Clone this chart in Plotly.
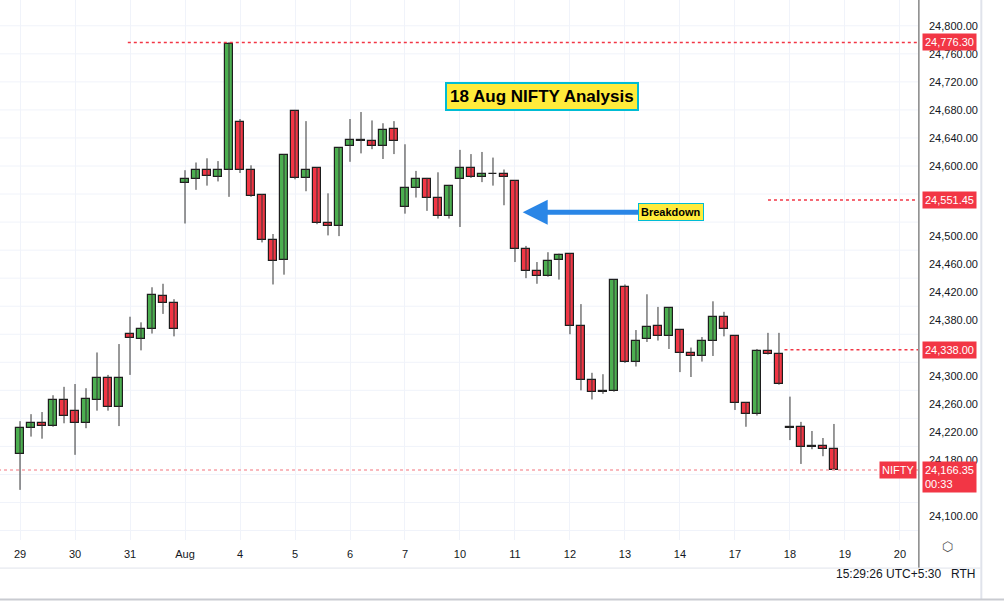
import plotly.graph_objects as go

# 75-minute candles, 5 per session
day_labels = ['29', '30', '31', 'Aug', '4', '5', '6', '7', '10', '11', '12', '13', '14', '17', '18', '19', '20']

opens = [24189, 24226, 24233, 24229, 24266, 24251, 24233, 24266, 24297, 24256,
         24361, 24353, 24367, 24414, 24405, 24576, 24581, 24594, 24585, 24595,
         24663, 24595, 24559, 24495, 24466, 24678, 24583, 24597, 24518, 24514,
         24628, 24637, 24635, 24629, 24653, 24542, 24568, 24582, 24555, 24529,
         24581, 24597, 24585, 24589, 24589, 24579, 24481, 24450, 24443, 24466,
         24474, 24372, 24295, 24279, 24279, 24427, 24321, 24353, 24372, 24357,
         24366, 24333, 24329, 24351, 24385, 24357, 24262, 24246, 24336, 24332,
         24227, 24228, 24200, 24201, 24197]
highs = [24236, 24246, 24249, 24273, 24285, 24289, 24283, 24334, 24302, 24346,
         24385, 24377, 24427, 24432, 24410, 24594, 24605, 24611, 24607, 24776.3,
         24667, 24601, 24560, 24503, 24617, 24680, 24664, 24598, 24561, 24627,
         24667, 24677, 24665, 24661, 24664, 24631, 24593, 24583, 24591, 24573,
         24623, 24617, 24620, 24612, 24595, 24580, 24486, 24463, 24477, 24475,
         24475, 24403, 24305, 24303, 24438, 24431, 24366, 24417, 24399, 24398,
         24367, 24341, 24356, 24407, 24392, 24358, 24263, 24339, 24362, 24362,
         24271, 24235, 24222, 24212, 24232]
lows = [24138, 24214, 24211, 24228, 24233, 24188, 24226, 24251, 24251, 24229,
        24302, 24337, 24361, 24389, 24357, 24518, 24566, 24572, 24578, 24556,
        24590, 24556, 24491, 24431, 24445, 24581, 24564, 24517, 24501, 24500,
        24606, 24618, 24624, 24610, 24617, 24532, 24555, 24536, 24525, 24525,
        24513, 24583, 24577, 24572, 24544, 24463, 24440, 24432, 24442, 24438,
        24360, 24280, 24267, 24275, 24278, 24319, 24314, 24349, 24351, 24339,
        24306, 24299, 24321, 24329, 24357, 24252, 24228, 24244, 24331, 24288,
        24209, 24175, 24196, 24186, 24166]
closes = [24226, 24233, 24229, 24266, 24243, 24233, 24267, 24297, 24256, 24297,
          24354, 24367, 24416, 24404, 24368, 24582, 24594, 24586, 24595, 24774,
          24594, 24557, 24494, 24464, 24616, 24583, 24595, 24518, 24515, 24626,
          24637, 24635, 24629, 24651, 24636, 24568, 24581, 24555, 24528, 24572,
          24597, 24585, 24589, 24588, 24585, 24481, 24450, 24443, 24464, 24473,
          24372, 24295, 24277, 24278, 24437, 24320, 24351, 24370, 24358, 24397,
          24333, 24329, 24351, 24385, 24368, 24262, 24246, 24336, 24332, 24289,
          24226, 24199, 24199, 24196, 24166.35]

y_ticks = [24800, 24760, 24720, 24680, 24640, 24600, 24500, 24460, 24420,
           24380, 24300, 24260, 24220, 24180, 24100]
grid_levels = [24800, 24760, 24720, 24680, 24640, 24600, 24560, 24520, 24480, 24440,
               24400, 24360, 24320, 24280, 24240, 24200, 24160, 24120, 24080]

level_high = 24776.30
level_breakdown = 24551.45
level_resist = 24338.00
last_price = 24166.35

RED = '#f23645'
GREEN = '#4caf50'
TXT = '#131722'

idx = list(range(len(opens)))
fig = go.Figure()

# wicks
wx, wy = [], []
for i in idx:
    wx += [i, i, None]
    wy += [lows[i], highs[i], None]
fig.add_trace(go.Scatter(x=wx, y=wy, mode='lines', line=dict(color='#333333', width=1),
                         showlegend=False, hoverinfo='skip'))

# bodies
base = [min(o, c) for o, c in zip(opens, closes)]
size = [max(abs(c - o), 1.2) for o, c in zip(opens, closes)]
cols = [GREEN if c >= o else RED for o, c in zip(opens, closes)]
fig.add_trace(go.Bar(x=idx, y=size, base=base, width=0.68, marker=dict(
    color=cols, line=dict(color='#1e1e1e', width=1.2)), showlegend=False, hoverinfo='skip'))

shapes = []
for g in grid_levels:
    shapes.append(dict(type='line', xref='paper', x0=0, x1=1, y0=g, y1=g,
                       line=dict(color='#f0f3fa', width=1), layer='below'))

# dotted price levels
for x0, lvl, col in [(9.8, level_high, RED), (68.0, level_breakdown, RED),
                     (69.5, level_resist, RED), (-2, last_price, '#f7a1a8')]:
    shapes.append(dict(type='line', x0=x0, x1=81.64, y0=lvl, y1=lvl,
                       line=dict(color=col, width=1.5, dash='dot')))

# frame lines (price scale, time scale, toolbar)
shapes += [
    dict(type='line', xref='paper', yref='paper', x0=1.001, x1=1.001, y0=-0.052, y1=1,
         line=dict(color='#4a4a4a', width=1)),
    dict(type='line', xref='paper', yref='paper', x0=0, x1=1.068, y0=-0.052, y1=-0.052,
         line=dict(color='#e0e3eb', width=1)),
    dict(type='line', xref='paper', yref='paper', x0=1.069, x1=1.069, y0=-0.111, y1=1,
         line=dict(color='#e0e3eb', width=2)),
    dict(type='line', xref='paper', yref='paper', x0=0, x1=1.1, y0=-0.11, y1=-0.11,
         line=dict(color='#c9cbd1', width=2)),
]

annotations = [
    dict(text='<b>18 Aug NIFTY Analysis</b>', xref='paper', yref='paper',
         x=542 / 918, y=1 - 82 / 540, showarrow=False,
         font=dict(size=17, color='#000000', family='Liberation Sans'),
         bgcolor='#ffeb3b', bordercolor='#00bcd4', borderwidth=2, borderpad=3),
    dict(text='<b>Breakdown</b>', x=45.7, y=24534, ax=148, ay=0,
         showarrow=True, arrowhead=2, arrowsize=1, arrowwidth=5, arrowcolor='#2a86e6',
         font=dict(size=11, color='#000000', family='Liberation Sans'),
         bgcolor='#ffeb3b', bordercolor='#00bcd4', borderwidth=1, borderpad=2),
    dict(text='15:29:26 UTC+5:30   RTH', xref='paper', yref='paper', x=978 / 918, y=-0.08,
         xanchor='right', showarrow=False, font=dict(size=12, color=TXT, family='Liberation Sans')),
    dict(text='⬡', xref='paper', yref='paper', x=955 / 918, y=-0.03, showarrow=False,
         font=dict(size=13, color='#555555')),
    dict(text='NIFTY', xref='paper', x=0.999, y=last_price, xanchor='right', showarrow=False,
         bgcolor=RED, font=dict(size=11, color='white', family='Liberation Sans'), borderpad=2),
    dict(text='24,166.35<br>00:33', xref='paper', x=1.004, y=last_price, yanchor='top', yshift=9,
         xanchor='left', showarrow=False, align='left', bgcolor=RED,
         font=dict(size=11, color='white', family='Liberation Sans'), borderpad=2),
]
for lvl in [level_high, level_breakdown, level_resist]:
    annotations.append(dict(text=f'{lvl:,.2f}', xref='paper', x=1.004, y=lvl, xanchor='left',
                            showarrow=False, bgcolor=RED, borderpad=2,
                            font=dict(size=11, color='white', family='Liberation Sans')))

fig.update_layout(
    width=1004, height=602, autosize=False,
    margin=dict(l=0, r=86, t=0, b=62),
    plot_bgcolor='white', paper_bgcolor='white', bargap=0,
    font=dict(family='Liberation Sans', color=TXT, size=11),
    xaxis=dict(range=[-1.82, 81.64], tickmode='array', tickvals=list(range(0, 81, 5)),
               ticktext=day_labels, showgrid=True, gridcolor='#f0f3fa', zeroline=False,
               ticks='', ticklabelstandoff=6, tickfont=dict(size=11, color=TXT)),
    yaxis=dict(range=[24066.5, 24836.8], side='right', tickmode='array', tickvals=y_ticks,
               tickformat=',.2f', showgrid=False, zeroline=False, ticks='',
               ticklabelstandoff=10, tickfont=dict(size=11, color=TXT)),
    shapes=shapes, annotations=annotations,
)

fig.write_html('out.html', config={'displayModeBar': False},
               post_script="document.body.style.margin='0';")
